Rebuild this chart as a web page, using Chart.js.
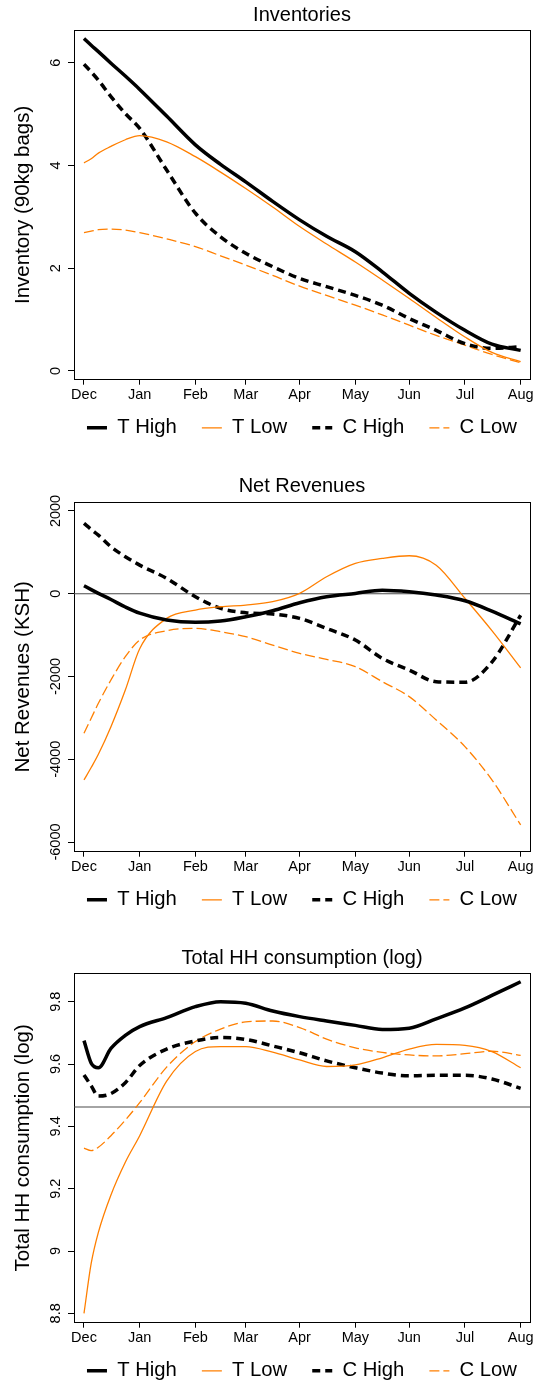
<!DOCTYPE html>
<html>
<head>
<meta charset="utf-8">
<title>Inventories, net revenues and consumption</title>
<script src="https://cdn.jsdelivr.net/npm/chart.js@4.4.1/dist/chart.umd.min.js"></script>
<style>
    html, body { margin: 0; padding: 0; background: #fff; width: 533px; height: 1385px; overflow: hidden; }
    .panel { position: absolute; left: 0; }
</style>
</head>
<body>
<div class="panel" style="top:0px"><canvas id="invChart" width="604" height="461"></canvas></div>
<div class="panel" style="top:472px"><canvas id="revChart" width="604" height="461"></canvas></div>
<div class="panel" style="top:943px"><canvas id="consChart" width="604" height="461"></canvas></div>
<script>
// x = days since 1 December
const days = [0, 4, 8, 15, 23, 31, 46, 62, 76, 90, 105, 120, 135, 151, 166, 181, 196, 212, 227, 243];
const monthDays = [0, 31, 62, 90, 120, 151, 181, 212, 243];
const monthLabels = ["Dec", "Jan", "Feb", "Mar", "Apr", "May", "Jun", "Jul", "Aug"];
const seriesNames = ["T High", "T Low", "C High", "C Low"];

// Inventories (90kg bags)
const invTHigh = [6.47, 6.34, 6.215, 5.99, 5.74, 5.48, 4.96, 4.40, 4.02, 3.68, 3.30, 2.94, 2.62, 2.32, 1.93, 1.51, 1.14, 0.79, 0.52, 0.40];
const invTLow  = [4.05, 4.13, 4.24, 4.37, 4.50, 4.58, 4.46, 4.17, 3.87, 3.55, 3.19, 2.81, 2.47, 2.12, 1.77, 1.41, 1.04, 0.66, 0.36, 0.18];
const invCHigh = [5.97, 5.82, 5.66, 5.34, 5.01, 4.72, 3.91, 3.07, 2.61, 2.29, 2.03, 1.80, 1.64, 1.47, 1.28, 1.02, 0.79, 0.53, 0.44, 0.47];
const invCLow  = [2.69, 2.72, 2.75, 2.76, 2.74, 2.69, 2.57, 2.42, 2.24, 2.06, 1.86, 1.65, 1.47, 1.28, 1.09, 0.89, 0.69, 0.50, 0.32, 0.16];
const invTicks = [0, 2, 4, 6];

// Net revenues (KSH)
const revTHigh = [193, 100, 10, -140, -320, -470, -636, -692, -660, -555, -410, -217, -72, 8, 85, 48, -32, -170, -420, -730];
const revTLow  = [-4500, -4200, -3880, -3212, -2326, -1330, -596, -395, -314, -274, -193, 8, 410, 733, 853, 918, 690, -110, -890, -1790];
const revCHigh = [1699, 1554, 1417, 1135, 894, 692, 370, -72, -354, -459, -491, -596, -837, -1119, -1562, -1844, -2125, -2140, -1650, -520];
const revCLow  = [-3373, -3010, -2648, -2085, -1521, -1119, -893, -837, -918, -1038, -1240, -1441, -1586, -1763, -2125, -2487, -3051, -3695, -4500, -5587];
const revTicks = [-6000, -4000, -2000, 0, 2000];
const revRefLine = 0;

// Total HH consumption (log)
const conTHigh = [9.675, 9.603, 9.588, 9.65, 9.692, 9.72, 9.749, 9.784, 9.80, 9.795, 9.770, 9.752, 9.738, 9.724, 9.711, 9.715, 9.745, 9.78, 9.82, 9.864];
const conTLow  = [8.80, 8.96, 9.06, 9.18, 9.285, 9.37, 9.545, 9.64, 9.656, 9.656, 9.638, 9.613, 9.592, 9.597, 9.62, 9.648, 9.663, 9.66, 9.64, 9.588];
const conCHigh = [9.565, 9.53, 9.497, 9.505, 9.54, 9.595, 9.648, 9.674, 9.685, 9.679, 9.658, 9.636, 9.61, 9.588, 9.571, 9.562, 9.564, 9.564, 9.552, 9.522];
const conCLow  = [9.33, 9.322, 9.333, 9.37, 9.42, 9.476, 9.59, 9.672, 9.712, 9.735, 9.738, 9.717, 9.68, 9.652, 9.637, 9.629, 9.626, 9.633, 9.641, 9.628];
const conTicks = [8.8, 9, 9.2, 9.4, 9.6, 9.8];
const conRefLine = 9.462;

const X_MIN = -5.56;
const X_MAX = 248.2;
const TICK_SIZE = 14.5;

const lineStyles = [
    { color: "#000000", width: 3.5, dash: [] },
    { color: "#ff7f00", width: 1.3, dash: [] },
    { color: "#000000", width: 3.5, dash: [8, 5] },
    { color: "#ff7f00", width: 1.3, dash: [10, 4] },
];

Chart.defaults.font.family = "'Liberation Sans', Arial, Helvetica, sans-serif";
Chart.defaults.color = "#000";

// legend sits closer to the month labels than Chart.js would put it
const legendLift = {
    id: "legendLift",
    afterLayout: function (chart) {
        chart.legend.top -= 13;
        chart.legend.bottom -= 13;
    },
};

// padding that puts the centre of the rotated y labels at x = 56
function yLabelPadding(ticks) {
    var c = document.createElement("canvas").getContext("2d");
    c.font = TICK_SIZE + "px 'Liberation Sans', Arial, sans-serif";
    var widest = Math.max.apply(null, ticks.map((t) => c.measureText(String(t)).width));
    return 74 - 6 - 56 - widest / 2;
}

// legend samples keep the dash pattern of their line
function legendLabels(chart) {
    return Chart.defaults.plugins.legend.labels.generateLabels(chart).map(function (item) {
        var ds = chart.data.datasets[item.datasetIndex];
        item.lineDash = ds.borderDash;
        item.lineWidth = ds.borderWidth;
        item.strokeStyle = ds.borderColor;
        return item;
    });
}

function makePanel(id, cfg) {
    var datasets = cfg.series.map(function (values, i) {
        var st = lineStyles[i];
        return {
            label: seriesNames[i],
            data: days.map((d, k) => ({ x: d, y: values[k] })),
            borderColor: st.color,
            backgroundColor: st.color,
            borderWidth: st.width,
            borderDash: st.dash,
            pointRadius: 0,
            fill: false,
            cubicInterpolationMode: "monotone",
        };
    });

    // horizontal reference line
    if (cfg.refLine !== null) {
        datasets.push({
            label: "",
            data: [{ x: X_MIN, y: cfg.refLine }, { x: X_MAX, y: cfg.refLine }],
            borderColor: "#4a4a4a",
            borderWidth: 1.2,
            pointRadius: 0,
            order: 1,
        });
    }

    return new Chart(document.getElementById(id), {
        type: "line",
        data: { datasets: datasets },
        plugins: [legendLift],
        options: {
            responsive: false,
            animation: false,
            layout: { padding: 0 },
            plugins: {
                tooltip: { enabled: false },
                title: {
                    display: true,
                    text: cfg.title,
                    fullSize: false,
                    font: { size: 20, weight: "normal" },
                    padding: { top: cfg.titleTop, bottom: 6 - cfg.titleTop },
                },
                legend: {
                    position: "bottom",
                    labels: {
                        usePointStyle: true,
                        pointStyle: "line",
                        pointStyleWidth: 20,
                        padding: 25,
                        font: { size: 20.3 },
                        generateLabels: legendLabels,
                        filter: (item) => item.text !== "",
                    },
                },
            },
            scales: {
                x: {
                    type: "linear",
                    position: "bottom",
                    min: X_MIN,
                    max: X_MAX,
                    afterBuildTicks: (s) => { s.ticks = monthDays.map((v) => ({ value: v })); },
                    afterFit: (s) => { s.height = 26; },
                    ticks: {
                        autoSkip: false,
                        maxRotation: 0,
                        padding: 1.5,
                        font: { size: TICK_SIZE },
                        callback: (v) => monthLabels[monthDays.indexOf(v)],
                    },
                    grid: { drawOnChartArea: false, tickLength: 5, color: "#000" },
                    border: { color: "#000", width: 1 },
                },
                y: {
                    type: "linear",
                    position: "left",
                    min: cfg.min,
                    max: cfg.max,
                    afterBuildTicks: (s) => { s.ticks = cfg.ticks.map((v) => ({ value: v })); },
                    afterFit: (s) => { s.width = 74; },
                    ticks: {
                        autoSkip: false,
                        minRotation: 90,
                        maxRotation: 90,
                        crossAlign: "center",
                        padding: yLabelPadding(cfg.ticks),
                        font: { size: TICK_SIZE },
                        callback: (v) => String(v),
                    },
                    grid: { drawOnChartArea: false, tickLength: 6, color: "#000" },
                    border: { color: "#000", width: 1 },
                    title: {
                        display: true,
                        text: cfg.yTitle,
                        font: { size: 20.5 },
                        padding: { top: 11, bottom: 0 },
                    },
                },
                // empty axes: only their borders close the plot box
                xTop: {
                    type: "linear",
                    position: "top",
                    ticks: { display: false },
                    grid: { display: false },
                    border: { color: "#000", width: 1 },
                    afterFit: (s) => { s.height = 0; },
                },
                yRight: {
                    type: "linear",
                    position: "right",
                    ticks: { display: false },
                    grid: { display: false },
                    border: { color: "#000", width: 1 },
                    afterFit: (s) => { s.width = 74; },
                },
            },
        },
    });
}

makePanel("invChart", {
    title: "Inventories",
    yTitle: "Inventory (90kg bags)",
    series: [invTHigh, invTLow, invCHigh, invCLow],
    ticks: invTicks,
    min: -0.171,
    max: 6.636,
    refLine: null,
    titleTop: 3.5,
});

makePanel("revChart", {
    title: "Net Revenues",
    yTitle: "Net Revenues (KSH)",
    series: [revTHigh, revTLow, revCHigh, revCLow],
    ticks: revTicks,
    min: -6234,
    max: 2217,
    refLine: revRefLine,
    titleTop: 2.3,
});

makePanel("consChart", {
    title: "Total HH consumption (log)",
    yTitle: "Total HH consumption (log)",
    series: [conTHigh, conTLow, conCHigh, conCLow],
    ticks: conTicks,
    min: 8.770,
    max: 9.892,
    refLine: conRefLine,
    titleTop: 3.8,
});
</script>
</body>
</html>
